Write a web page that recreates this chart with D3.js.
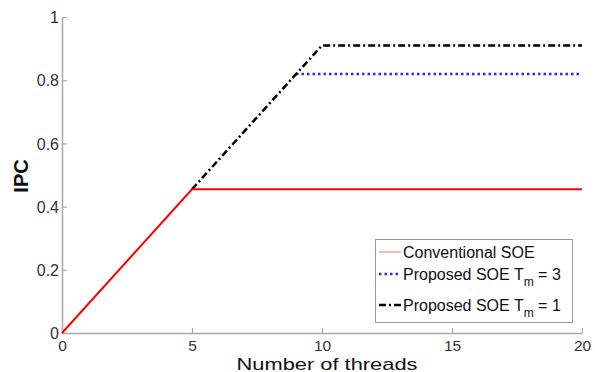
<!DOCTYPE html>
<html><head><meta charset="utf-8">
<script src="https://cdn.jsdelivr.net/npm/d3@7"></script>
<style>body{margin:0;background:#fff}svg{display:block}text{font-family:"Liberation Sans",Arial,sans-serif}</style>
</head><body>
<svg id="c" width="595" height="372"></svg>
<script>
const xTicks = [0, 5, 10, 15, 20];
const yTicks = [0, 0.2, 0.4, 0.6, 0.8, 1];
const yTickLabels = ["0", "0.2", "0.4", "0.6", "0.8", "1"];
const convX = [0, 5, 20];
const convY = [0, 0.455, 0.455];
const tm3X = [9, 20];
const tm3Y = [0.82, 0.82];
const tm1X = [5, 10, 20];
const tm1Y = [0.455, 0.91, 0.91];
const legendLabels = ["Conventional SOE", "Proposed SOE T", "Proposed SOE T"];
const legendSubs = ["", "m", "m"];
const legendTails = ["", " = 3", " = 1"];

const svg = d3.select("#c");
const x = d3.scaleLinear().domain([0, 20]).range([62, 582]);
const y = d3.scaleLinear().domain([0, 1]).range([333, 17]);
const axisCol = "#a8a8a8", txtCol = "#333";

const xa = svg.append("g").attr("transform", "translate(0,333)")
  .call(d3.axisBottom(x).tickValues(xTicks).tickSizeInner(-5).tickSizeOuter(0).tickPadding(7));
const ya = svg.append("g").attr("transform", "translate(62,0)")
  .call(d3.axisLeft(y).tickValues(yTicks).tickFormat((d,i)=>yTickLabels[i]).tickSizeInner(-5).tickSizeOuter(0).tickPadding(3));
[xa, ya].forEach(g => {
  g.select(".domain").attr("stroke", axisCol).attr("stroke-width", 1.5);
  g.selectAll(".tick line").attr("stroke", axisCol).attr("stroke-width", 1.2);
  g.selectAll(".tick text").attr("fill", txtCol).style("font-size", "16px").attr("font-family", "Liberation Sans, Arial, sans-serif");
});
xa.selectAll(".tick text").style("font-size", "15.5px").attr("dy", "0.71em");
ya.selectAll(".tick text").attr("dy", "0.36em");

svg.append("text").attr("x", 327).attr("y", 369.5).attr("text-anchor", "middle")
  .attr("fill", "#111").style("font-size", "17px").attr("textLength", 181).attr("lengthAdjust", "spacingAndGlyphs")
  .text("Number of threads");
svg.append("text").attr("transform", "translate(28,176) rotate(-90)").attr("text-anchor", "middle")
  .attr("fill", "#111").style("font-size", "20px").style("font-weight", "bold").text("IPC");

const line = d3.line().x(d => x(d[0])).y(d => y(d[1]));
const zip = (a, b) => a.map((v, i) => [v, b[i]]);

svg.append("path").datum(zip(tm3X, tm3Y)).attr("d", line).attr("fill", "none")
  .attr("stroke", "#2a2aff").attr("stroke-width", 2.5).attr("stroke-dasharray", "2.5,3");
svg.append("path").datum(zip(tm1X, tm1Y)).attr("d", line).attr("fill", "none")
  .attr("stroke", "#000").attr("stroke-width", 2.5).attr("stroke-dasharray", "7,3,2,3");
svg.append("path").datum(zip(convX, convY)).attr("d", line).attr("fill", "none")
  .attr("stroke", "#ff0000").attr("stroke-width", 2);

// legend
const lg = svg.append("g");
lg.append("rect").attr("x", 375.5).attr("y", 239.5).attr("width", 197).attr("height", 83)
  .attr("fill", "#fff").attr("stroke", "#999").attr("stroke-width", 1);
const rows = [252, 274, 305];
const styles = [
  {c: "#ff6666", w: 1, d: null},
  {c: "#2a2aff", w: 2.5, d: "2.5,3"},
  {c: "#000", w: 2.5, d: "7,3,2,3"}
];
rows.forEach((ry, i) => {
  const s = styles[i];
  lg.append("line").attr("x1", 379).attr("x2", 401).attr("y1", ry).attr("y2", ry)
    .attr("stroke", s.c).attr("stroke-width", s.w).attr("stroke-dasharray", s.d);
  const t = lg.append("text").attr("x", 403).attr("y", ry).attr("dy", "0.36em")
    .attr("fill", "#111").style("font-size", "16px");
  t.append("tspan").text(legendLabels[i]);
  if (legendSubs[i]) {
    t.append("tspan").attr("dy", "6").style("font-size", "12px").text(legendSubs[i]);
    t.append("tspan").attr("dy", "-6").text(legendTails[i]);
  }
});
</script>
</body></html>
